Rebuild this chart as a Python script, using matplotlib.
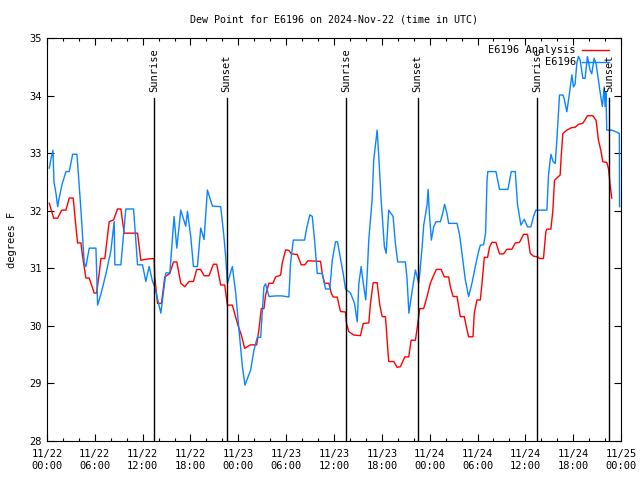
import matplotlib
matplotlib.use("Agg")
import matplotlib.pyplot as plt
from matplotlib.ticker import MultipleLocator

# hours since 11/22 00:00 UTC
analysis_hours = [0.29, 0.84, 1.34, 1.84, 2.38, 2.79, 3.29, 3.63, 3.84, 4.26, 4.47, 4.88, 5.30, 5.92,
                  6.22, 6.55, 6.76, 7.26, 7.80, 8.35, 8.85, 9.27, 9.68, 11.36, 11.77, 12.61, 13.44,
                  13.52, 13.86, 14.36, 14.78, 15.40, 15.87, 16.28, 16.78, 17.28, 17.82, 18.37, 18.78,
                  19.28, 19.70, 20.32, 20.87, 21.29, 21.79, 22.29, 22.63, 23.25, 23.95, 24.38, 24.79,
                  25.54, 26.30, 26.58, 26.88, 27.21, 27.42, 27.84, 28.34, 28.68, 29.30, 29.51, 29.93,
                  30.34, 30.64, 31.39, 31.89, 32.34, 32.72, 34.31, 34.52, 34.81, 35.35, 35.65, 35.90,
                  36.40, 36.81, 37.44, 37.57, 37.85, 38.48, 39.32, 39.66, 40.36, 40.57, 40.91, 41.41,
                  41.74, 42.04, 42.45, 42.66, 42.86, 43.49, 43.91, 44.33, 44.87, 45.37, 45.67, 46.21,
                  46.52, 46.75, 47.24, 47.67, 48.08, 48.50, 48.84, 49.42, 49.84, 50.38, 50.59, 50.93,
                  51.43, 51.84, 52.34, 52.59, 52.88, 53.43, 53.59, 53.93, 54.35, 54.56, 54.85, 55.26,
                  55.51, 55.81, 56.31, 56.76, 57.26, 57.69, 58.31, 58.73, 59.27, 59.77, 60.27, 60.61,
                  61.02, 61.52, 61.77, 62.27, 62.40, 62.57, 62.70, 63.20, 63.45, 63.65, 64.36, 64.49,
                  64.70, 65.20, 65.74, 66.24, 66.65, 67.21, 67.49, 67.78, 68.46, 68.87, 69.16, 69.46,
                  69.71, 70.21, 70.41, 70.53, 70.62, 70.84]
analysis_dewpt = [32.13, 31.87, 31.87, 32.01, 32.01, 32.22, 32.22, 31.72, 31.44, 31.44, 31.20, 30.83,
                  30.83, 30.57, 30.57, 30.91, 31.17, 31.17, 31.81, 31.84, 32.03, 32.03, 31.61, 31.61,
                  31.14, 31.16, 31.17, 30.85, 30.39, 30.39, 30.85, 30.91, 31.11, 31.11, 30.74, 30.68,
                  30.77, 30.77, 30.98, 30.98, 30.87, 30.87, 31.07, 31.07, 30.71, 30.71, 30.36, 30.36,
                  30.01, 29.84, 29.61, 29.67, 29.67, 29.93, 30.30, 30.30, 30.54, 30.74, 30.74, 30.85,
                  30.88, 31.09, 31.32, 31.31, 31.25, 31.24, 31.06, 31.06, 31.13, 31.12, 30.91, 30.74,
                  30.74, 30.57, 30.50, 30.50, 30.25, 30.24, 30.04, 29.90, 29.84, 29.83, 30.04, 30.05,
                  30.39, 30.75, 30.75, 30.36, 30.16, 30.16, 29.75, 29.38, 29.38, 29.28, 29.29, 29.46,
                  29.46, 29.75, 29.75, 30.05, 30.30, 30.30, 30.51, 30.74, 30.88, 30.98, 30.98, 30.85,
                  30.85, 30.68, 30.51, 30.51, 30.16, 30.16, 29.99, 29.81, 29.81, 30.22, 30.45, 30.45,
                  30.74, 31.19, 31.19, 31.37, 31.45, 31.45, 31.25, 31.25, 31.33, 31.33, 31.44, 31.45,
                  31.59, 31.59, 31.26, 31.21, 31.20, 31.17, 31.17, 31.37, 31.64, 31.68, 31.68, 32.01,
                  32.53, 32.62, 32.94, 33.34, 33.40, 33.44, 33.45, 33.50, 33.52, 33.58, 33.65, 33.65,
                  33.57, 33.23, 33.05, 32.85, 32.84, 32.74, 32.59, 32.45, 32.22]

station_hours = [0.29, 0.50, 0.75, 0.88, 1.13, 1.34, 1.50, 1.88, 2.38, 2.79, 3.22, 3.76, 4.01, 4.26,
                 4.67, 4.88, 5.30, 6.14, 6.35, 6.76, 7.39, 8.01, 8.43, 8.51, 9.27, 9.89, 10.86, 11.36,
                 11.98, 12.40, 12.81, 13.24, 13.52, 13.90, 14.28, 14.91, 15.41, 15.94, 16.28, 16.78,
                 17.40, 17.62, 18.03, 18.37, 18.87, 19.28, 19.70, 20.12, 20.75, 21.79, 22.16, 22.41,
                 22.63, 23.25, 23.67, 24.08, 24.51, 24.83, 25.54, 25.96, 26.38, 26.80, 27.21, 27.42,
                 27.84, 28.68, 29.51, 30.34, 30.55, 30.89, 32.31, 32.56, 32.97, 33.27, 33.56, 33.90,
                 34.52, 34.94, 35.47, 35.78, 36.19, 36.44, 36.73, 37.15, 37.44, 38.07, 38.57, 38.91,
                 39.11, 39.41, 39.66, 39.98, 40.16, 40.36, 40.78, 40.98, 41.41, 41.61, 41.91, 42.32,
                 42.54, 42.86, 43.41, 43.70, 43.99, 44.95, 45.17, 45.39, 45.79, 46.21, 46.62, 46.75,
                 47.05, 47.25, 47.67, 47.80, 47.96, 48.21, 48.50, 48.80, 49.34, 49.62, 49.87, 50.17,
                 50.38, 51.43, 51.75, 52.05, 52.47, 52.88, 53.30, 53.72, 54.13, 54.35, 54.76, 55.01,
                 55.19, 55.29, 56.31, 56.76, 57.81, 58.23, 58.73, 59.02, 59.44, 59.86, 60.27, 60.69,
                 61.02, 61.32, 62.70, 62.90, 63.20, 63.49, 63.74, 63.95, 64.28, 64.70, 64.86, 65.20,
                 65.53, 65.83, 66.03, 66.24, 66.45, 66.65, 66.86, 67.21, 67.49, 67.78, 68.12, 68.33,
                 68.62, 68.87, 69.16, 69.46, 69.66, 69.88, 70.00, 70.10, 70.21, 70.84, 71.37, 71.79,
                 71.81]
station_dewpt = [32.74, 32.90, 33.05, 32.50, 32.30, 32.07, 32.20, 32.45, 32.68, 32.68, 32.98, 32.98,
                 32.50, 32.01, 31.09, 31.03, 31.35, 31.35, 30.36, 30.55, 30.90, 31.30, 31.81, 31.06,
                 31.06, 32.03, 32.03, 31.06, 31.06, 30.77, 31.03, 30.77, 30.68, 30.45, 30.22, 30.92,
                 30.92, 31.90, 31.35, 32.01, 31.73, 31.99, 31.55, 31.03, 31.03, 31.70, 31.50, 32.36,
                 32.08, 32.07, 31.60, 31.20, 30.74, 31.03, 30.57, 29.93, 29.29, 28.97, 29.23, 29.58,
                 29.80, 29.80, 30.68, 30.73, 30.51, 30.52, 30.52, 30.50, 31.09, 31.49, 31.49, 31.69,
                 31.93, 31.90, 31.49, 30.91, 30.91, 30.64, 30.64, 31.14, 31.46, 31.46, 31.23, 30.91,
                 30.64, 30.57, 30.39, 30.07, 30.73, 31.03, 30.75, 30.45, 30.90, 31.49, 32.19, 32.88,
                 33.40, 32.95, 32.19, 31.37, 31.26, 32.01, 31.90, 31.43, 31.11, 31.11, 30.80, 30.22,
                 30.60, 30.97, 30.74, 30.90, 31.37, 31.75, 32.10, 32.37, 31.95, 31.49, 31.72, 31.81,
                 31.81, 31.95, 32.11, 31.95, 31.78, 31.78, 31.58, 31.26, 30.80, 30.51, 30.74, 31.03,
                 31.29, 31.40, 31.41, 31.61, 32.53, 32.68, 32.68, 32.37, 32.37, 32.68, 32.68, 32.10,
                 31.75, 31.85, 31.72, 31.72, 31.90, 32.01, 32.01, 32.62, 32.98, 32.85, 32.82, 33.23,
                 34.01, 34.01, 33.95, 33.72, 34.04, 34.36, 34.15, 34.20, 34.56, 34.68, 34.62, 34.30,
                 34.30, 34.68, 34.44, 34.38, 34.65, 34.55, 34.27, 33.98, 33.81, 34.15, 33.81, 34.05,
                 33.40, 33.40, 33.37, 33.34, 32.07]

sun_events = ["Sunrise", "Sunset", "Sunrise", "Sunset", "Sunrise", "Sunset"]
sun_hours = [13.44, 22.54, 37.48, 46.50, 61.52, 70.54]

tick_labels = ["11/22\n00:00", "11/22\n06:00", "11/22\n12:00", "11/22\n18:00",
               "11/23\n00:00", "11/23\n06:00", "11/23\n12:00", "11/23\n18:00",
               "11/24\n00:00", "11/24\n06:00", "11/24\n12:00", "11/24\n18:00",
               "11/25\n00:00"]

plt.rcParams['font.family'] = ['DejaVu Sans Mono']
plt.rcParams['font.size'] = 7

fig = plt.figure(figsize=(6.4, 4.8), dpi=100)
ax = fig.add_axes([0.0734, 0.0813, 0.897, 0.8395])

ax.plot(analysis_hours, analysis_dewpt, color="#ff0000", lw=1.0, label="E6196 Analysis")
ax.plot(station_hours, station_dewpt, color="#0a84ff", lw=1.0, label="E6196")

for name, h in zip(sun_events, sun_hours):
    ax.plot([h, h], [28, 33.95], color="black", lw=1.0)
    ax.text(h, 34.07, name, rotation=90, ha="center", va="bottom", fontsize=7.5)

ax.set_xlim(0, 72)
ax.set_ylim(28, 35)
ax.set_xticks(range(0, 73, 6))
ax.set_xticklabels(tick_labels)
ax.xaxis.set_minor_locator(MultipleLocator(2))
ax.yaxis.set_major_locator(MultipleLocator(1))
ax.tick_params(which="both", direction="in", top=True, right=True, labelsize=7.5)
ax.tick_params(which="major", length=5, width=0.8)
ax.tick_params(which="minor", length=2.5, width=0.8)
ax.tick_params(axis="x", pad=6)

ax.set_title("Dew Point for E6196 on 2024-Nov-22 (time in UTC)", fontsize=7.2, pad=11)
ax.set_ylabel("degrees F", fontsize=7.5, labelpad=9)

leg = ax.legend(loc="upper right", frameon=False, markerfirst=False, fontsize=7.5,
                handlelength=2.6, handletextpad=0.6, labelspacing=0.2,
                borderaxespad=0.3, bbox_to_anchor=(0.992, 1.0))
for vp in leg._legend_handle_box.get_children():
    vp.align = "right"

fig.savefig("out.png", dpi=100)
